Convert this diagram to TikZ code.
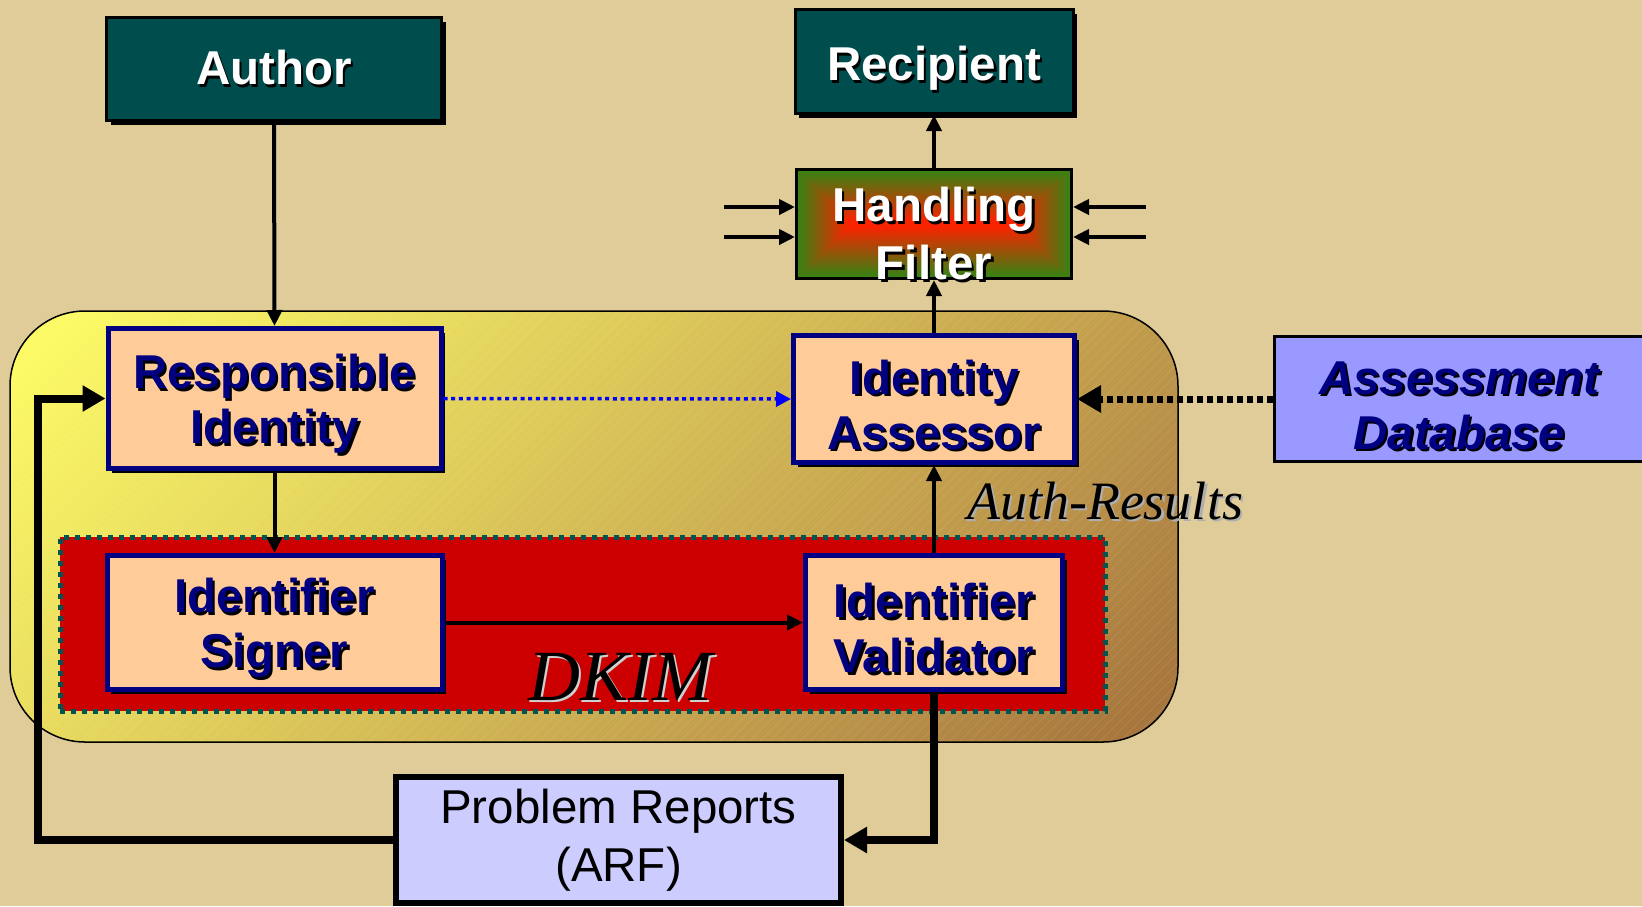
\documentclass[tikz,border=0pt]{standalone}
\usepackage{fontspec}
\setmainfont{Liberation Sans}
\newfontfamily\captionserif{Liberation Serif}
\usetikzlibrary{arrows.meta,shadows}

\definecolor{bgtan}{RGB}{224,204,153}
\definecolor{darkteal}{RGB}{0,77,77}
\definecolor{peach}{RGB}{255,204,153}
\definecolor{navyblue}{RGB}{0,0,128}
\definecolor{dkimred}{RGB}{204,0,0}
\definecolor{dotteal}{RGB}{0,85,80}
\definecolor{lavender}{RGB}{204,204,255}
\definecolor{periwinkle}{RGB}{153,153,255}
\definecolor{filtergreen}{RGB}{45,135,20}
\definecolor{filterred}{RGB}{250,35,0}
\definecolor{captionshadow}{RGB}{175,175,175}
% stops of the domain glow, top-left to bottom-right
\definecolor{glowA}{RGB}{255,255,102}
\definecolor{glowB}{RGB}{230,216,94}
\definecolor{glowC}{RGB}{202,170,80}
\definecolor{glowD}{RGB}{184,143,72}
\definecolor{glowE}{RGB}{162,112,58}

% text with a drop shadow (optional shadow colour)
\newcommand\shd[2][black]{\leavevmode\rlap{\kern2.5pt\raisebox{-2.5pt}{\textcolor{#1}{#2}}}#2}
\newcommand\twolines[2]{\rule{0pt}{48pt}\shd{#1}\\\shd{#2}}

\begin{document}
\begin{tikzpicture}[x=1pt, y=-1pt,
  boxlabel/.style={font=\fontsize{47.5pt}{55pt}\selectfont\bfseries, align=center, inner sep=0pt},
  boxshadow/.style={drop shadow={shadow xshift=4pt, shadow yshift=-4pt, fill=black, opacity=1}},
  endpoint/.style={boxlabel, boxshadow, draw=black, line width=3pt, fill=darkteal, text=white},
  stage/.style={boxlabel, boxshadow, draw=navyblue, line width=5pt, fill=peach, text=navyblue},
  flow/.style={line width=4pt, -{Triangle[length=16pt,width=15pt]}},
  feedback/.style={line width=8pt, -{Triangle[length=23pt,width=25pt]}},
  caption/.style={font=\captionserif\itshape, anchor=base, inner sep=0pt},
]
% canvas
\fill[bgtan] (0,0) rectangle (1642,906);
\useasboundingbox (0,0) rectangle (1642,906);

% signing / verifying domain: diagonal glow with faint hatching
\begin{scope}
  \clip[rounded corners=75pt] (10,311) rectangle (1178,742);
  \foreach \u in {0,8,...,1600} {
    \pgfmathsetmacro\f{\u/16}
    \ifdim\f pt<30pt
      \pgfmathsetmacro\m{\f/30*100}\colorlet{stripc}{glowB!\m!glowA}
    \else\ifdim\f pt<62pt
      \pgfmathsetmacro\m{(\f-30)/32*100}\colorlet{stripc}{glowC!\m!glowB}
    \else\ifdim\f pt<80pt
      \pgfmathsetmacro\m{(\f-62)/18*100}\colorlet{stripc}{glowD!\m!glowC}
    \else
      \pgfmathsetmacro\m{min(100,(\f-80)/20*100)}\colorlet{stripc}{glowE!\m!glowD}
    \fi\fi\fi
    \fill[stripc] ({10+\u},311) -- ({19+\u},311) -- ({19+\u-500},811) -- ({10+\u-500},811) -- cycle;
  }
  \foreach \u in {0,10,...,1600}
    \draw[white, opacity=0.12, line width=0.6pt] ({10+\u},311) -- ({10+\u-500},811);
\end{scope}
\draw[black, line width=1.5pt, rounded corners=75pt] (10,311) rectangle (1178,742);

% DKIM band
\node[draw=dotteal, fill=dkimred, line width=5pt, dash pattern=on 5pt off 6pt,
      minimum width=1045pt, minimum height=174pt, inner sep=0pt] (dkim) at (582.5,624) {};

% handling filter: rectangular glow from green rim to red core
\foreach \i in {0,...,26} {
  \pgfmathsetmacro\p{\i*100/26}
  \fill[filterred!\p!filtergreen] ({795+2*\i},{168+2*\i}) rectangle ({1073-2*\i},{280-2*\i});
}
\node[draw=black, line width=3pt, minimum width=275pt, minimum height=109pt, inner sep=0pt] (filter) at (934,224) {};

% boxes
\node[endpoint, minimum width=335pt, minimum height=103pt] (author) at (274,69) {\shd{Author}};
\node[endpoint, minimum width=278pt, minimum height=104pt] (recipient) at (934,61.5) {\rule{0pt}{51pt}\shd{Recipient}};
\node[stage, minimum width=333pt, minimum height=140pt] (resp) at (274.5,398.5) {\twolines{Responsible}{Identity}};
\node[stage, minimum width=335pt, minimum height=134pt] (sign) at (274.5,622.5) {\twolines{Identifier}{Signer}};
\node[stage, minimum width=281pt, minimum height=127pt] (assessor) at (934,399) {\twolines{Identity}{Assessor}};
\node[stage, minimum width=257pt, minimum height=134pt] (validator) at (934,622.5) {\twolines{Identifier}{Validator}};
\node[boxlabel, font=\fontsize{47.5pt}{55pt}\selectfont\bfseries\itshape, draw=black, line width=3pt,
      fill=periwinkle, text=navyblue, minimum width=369pt, minimum height=125pt] (adb) at (1459,399)
  {\twolines{Assessment}{Database}};
\node[boxlabel, font=\fontsize{47.5pt}{58pt}\selectfont, draw=black, line width=6pt,
      fill=lavender, text=black, minimum width=445pt, minimum height=126pt] (arf) at (618.5,840)
  {Problem Reports\\(ARF)};

\node[boxlabel, font=\fontsize{47.5pt}{58pt}\selectfont\bfseries, text=white] (filtertext) at (934,235)
  {\shd{Handling}\\\shd{Filter}};

% free ends of the filter inputs and the feedback corner
\coordinate (inA) at (724,207);
\coordinate (inB) at (724,237);
\coordinate (inC) at (1146,207);
\coordinate (inD) at (1146,237);
\coordinate (fbcorner) at (38,398.5);

% message flow
\draw[flow] (author.south) -- (resp.north);
\draw[flow] (resp.south) -- (sign.north);
\draw[flow] (sign.east) -- (validator.west);
\draw[flow] (validator.north) -- (assessor.south);
\draw[flow] (assessor.north) -- (filter.south);
\draw[flow] (filter.north) -- (recipient.south);
\draw[flow] (inA) -- (inA -| filter.west);
\draw[flow] (inB) -- (inB -| filter.west);
\draw[flow] (inC) -- (inC -| filter.east);
\draw[flow] (inD) -- (inD -| filter.east);

\draw[blue, line width=3.5pt, dash pattern=on 4pt off 3.7pt, -{Triangle[length=15pt,width=15pt]}]
  (resp.east) -- (assessor.west);
\draw[line width=7pt, dash pattern=on 6pt off 4pt, -{Triangle[length=24pt,width=26pt]}]
  (adb.west) -- (assessor.east);

% feedback loop
\draw[feedback] (validator.south) |- (arf.east);
\draw[feedback] (arf.west) -| (fbcorner) -- (resp.west);

% captions
\node[caption, font=\captionserif\itshape\fontsize{54pt}{60pt}\selectfont] (authres) at (1105,519)
  {\shd[captionshadow]{Auth-Results}};
\node[caption, font=\captionserif\itshape\fontsize{72pt}{80pt}\selectfont] (dkimlabel) at (620,700)
  {\shd[captionshadow!60!white]{DKIM}};
\end{tikzpicture}
\end{document}
